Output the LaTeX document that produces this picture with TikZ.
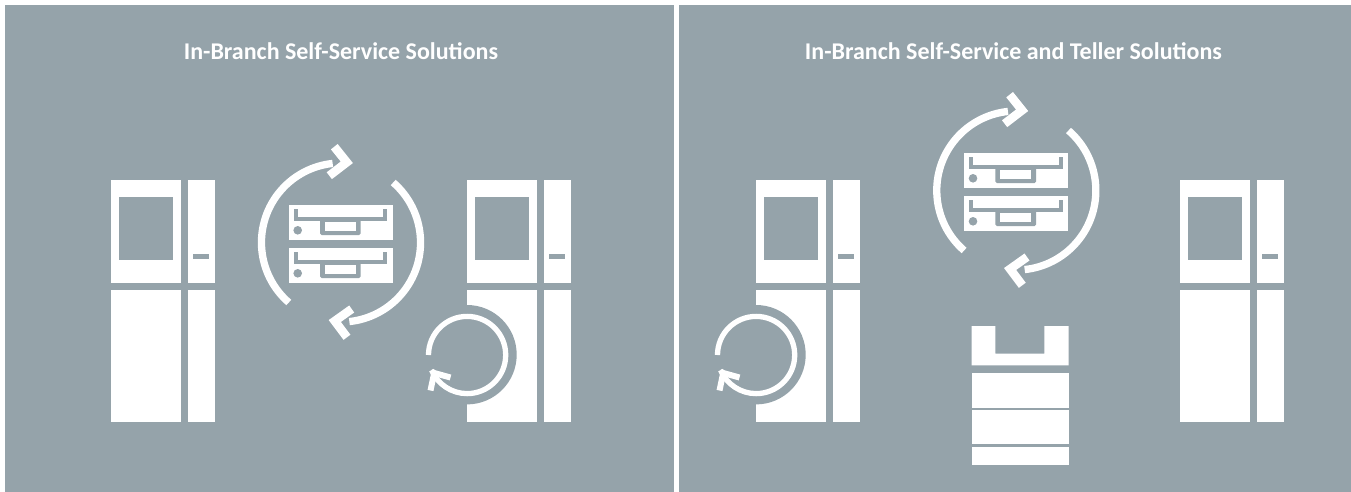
\documentclass[tikz,border=0pt]{standalone}
\usepackage{fontspec}
\setmainfont{Carlito}
\definecolor{panel}{HTML}{95A3AA}
\tikzset{
  x=1pt,y=-1pt,
  panelbg/.style={fill=panel,draw=none},
  part/.style={fill=white,draw=none},
  hole/.style={fill=panel,draw=none},
  cycleline/.style={draw=white,line width=7.3pt,line cap=butt},
  cyclehead/.style={draw=white,line width=8.6pt,line cap=butt,miter limit=10},
  miniline/.style={draw=white,line width=5.3pt,line cap=butt},
  minihead/.style={draw=white,line width=6pt,line cap=butt,miter limit=10},
  titletext/.style={text=white,font=\fontsize{24}{28}\selectfont\bfseries,inner sep=0pt,anchor=base}
}
\newcommand{\kiosk}[1]{%
  \begin{scope}[shift={(#1,0)}]
    \fill[part] (111,179.5) rectangle (181,282.5);
    \fill[hole] (118.7,197) rectangle (173.3,259.7);
    \fill[part] (188,179.5) rectangle (214.7,282.5);
    \fill[hole] (193.3,254) rectangle (208.7,259.3);
    \fill[part] (111,290) rectangle (181,422);
    \fill[part] (188,290) rectangle (215,422);
  \end{scope}}
\newcommand{\cutout}[1]{%
  \begin{scope}[shift={(#1,0)}]
    \fill[hole] (111,305) arc[start angle=90,end angle=-90,x radius=49.7,y radius=-49.7] -- cycle;
    \draw[miniline] (72.5,355) arc[start angle=180,delta angle=-337,x radius=38.6,y radius=-38.6];
    \draw[minihead] (94.5,377.5) -- (78.2,373) -- (74.5,390.5);
  \end{scope}}
\newcommand{\unit}[1]{%
  \begin{scope}[shift={(0,#1)}]
    \fill[part] (289,205) rectangle (392.7,239.7);
    \fill[hole] (293.7,209.3) rectangle (297.7,220.7);
    \fill[hole] (383.3,209.3) rectangle (387.3,220.7);
    \fill[hole] (293.7,217.3) rectangle (387.3,220.7);
    \fill[hole,rounded corners=1.5pt] (320,219) -- (320,235) -- (360.7,235) -- (360.7,219) -- cycle;
    \fill[part] (325,221.7) rectangle (355.7,231);
    \fill[hole] (297.7,230.3) circle[radius=4.3];
  \end{scope}}
\begin{document}
\begin{tikzpicture}
\useasboundingbox (0,0) rectangle (1351,492);
\fill[white] (0,0) rectangle (1351,492);
\fill[panelbg] (5,5) rectangle (674,492);
\fill[panelbg] (679,5) rectangle (1351,492);
\node[titletext] (title1) at (341,59.5) {In-Branch Self-Service Solutions};
\node[titletext] (title2) at (1013.5,59.5) {In-Branch Self-Service and Teller Solutions};
\kiosk{0}
\kiosk{356}
\kiosk{645}
\kiosk{1069}
\cutout{356}
\cutout{645}
\foreach \dx/\dy in {0/0,675.3/-52}{
\begin{scope}[shift={(\dx,\dy)}]
  \unit{0}
  \unit{43}
  \draw[cycleline] (288.8,302.5) arc[start angle=229,end angle=96,x radius=79.5,y radius=-79.5];
  \draw[cyclehead] (334.3,146.7) -- (346.8,162.3) -- (329.3,175.7);
  \draw[cycleline] (393.2,182.5) arc[start angle=49,end angle=-84,x radius=79.5,y radius=-79.5];
  \draw[cyclehead] (351.7,309) -- (334.8,321) -- (347,337.3);
\end{scope}}
\fill[part] (971.7,326) -- (995.3,326) -- (995.3,353.7) -- (1044.3,353.7) -- (1044.3,326) -- (1068.7,326) -- (1068.7,365.3) -- (971.7,365.3) -- cycle;
\fill[part] (972,373) rectangle (1069,408);
\fill[part] (972,410) rectangle (1069,444);
\fill[part] (972,447) rectangle (1069,465);
\end{tikzpicture}
\end{document}
